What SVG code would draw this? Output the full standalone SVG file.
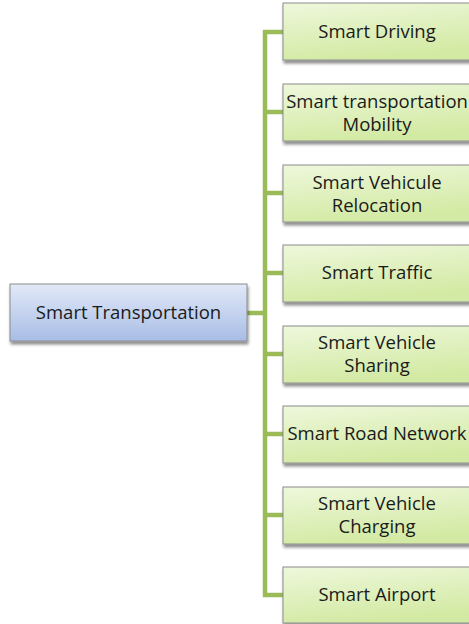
<svg xmlns="http://www.w3.org/2000/svg" width="469" height="624" viewBox="0 0 469 624">
<defs>
<linearGradient id="gBlue" x1="0" y1="0" x2="0" y2="1">
<stop offset="0" stop-color="#e2e9f7"/>
<stop offset="1" stop-color="#a8bde6"/>
</linearGradient>
<linearGradient id="gGreen" x1="0" y1="0" x2="0.3" y2="1">
<stop offset="0" stop-color="#eef8dc"/>
<stop offset="1" stop-color="#d3eaa4"/>
</linearGradient>
<filter id="sh" x="-10%" y="-10%" width="130%" height="140%">
<feGaussianBlur in="SourceAlpha" stdDeviation="1.5"/>
<feOffset dx="1" dy="3" result="b"/>
<feComponentTransfer><feFuncA type="linear" slope="0.45"/></feComponentTransfer>
<feMerge><feMergeNode/><feMergeNode in="SourceGraphic"/></feMerge>
</filter>
</defs>
<style>
.box{stroke:#8c8c8c;stroke-width:1;filter:url(#sh)}
.blue{fill:url(#gBlue)}
.green{fill:url(#gGreen)}
.t{font-family:"Open Sans","Liberation Sans",sans-serif;font-size:18.5px;fill:#1a1a1a;text-anchor:middle}
.c{stroke:#9bbb59;stroke-width:4.5;fill:none}
</style>
<g id="connectors">
<path class="c" d="M247 313 H265"/>
<path class="c" d="M283 32 H265 V595 H283"/>
<path class="c" d="M265 112 H283 M265 193 H283 M265 273 H283 M265 354 H283 M265 434 H283 M265 515 H283"/>
</g>
<g id="root">
<rect class="box blue" x="10" y="284" width="237" height="57"/>
<text class="t" x="128.5" y="319">Smart Transportation</text>
</g>
<g id="n1">
<rect class="box green" x="283" y="3" width="190" height="57"/>
<text class="t" x="377" y="38">Smart Driving</text>
</g>
<g id="n2">
<rect class="box green" x="283" y="84" width="190" height="57"/>
<text class="t" x="377" y="108">Smart transportation</text>
<text class="t" x="377" y="131">Mobility</text>
</g>
<g id="n3">
<rect class="box green" x="283" y="165" width="190" height="57"/>
<text class="t" x="377" y="189">Smart Vehicule</text>
<text class="t" x="377" y="212">Relocation</text>
</g>
<g id="n4">
<rect class="box green" x="283" y="245" width="190" height="57"/>
<text class="t" x="377" y="279">Smart Traffic</text>
</g>
<g id="n5">
<rect class="box green" x="283" y="326" width="190" height="57"/>
<text class="t" x="377" y="349">Smart Vehicle</text>
<text class="t" x="377" y="372">Sharing</text>
</g>
<g id="n6">
<rect class="box green" x="283" y="406" width="190" height="57"/>
<text class="t" x="377" y="440">Smart Road Network</text>
</g>
<g id="n7">
<rect class="box green" x="283" y="487" width="190" height="57"/>
<text class="t" x="377" y="510">Smart Vehicle</text>
<text class="t" x="377" y="533">Charging</text>
</g>
<g id="n8">
<rect class="box green" x="283" y="567" width="190" height="56"/>
<text class="t" x="377" y="601">Smart Airport</text>
</g>
</svg>
